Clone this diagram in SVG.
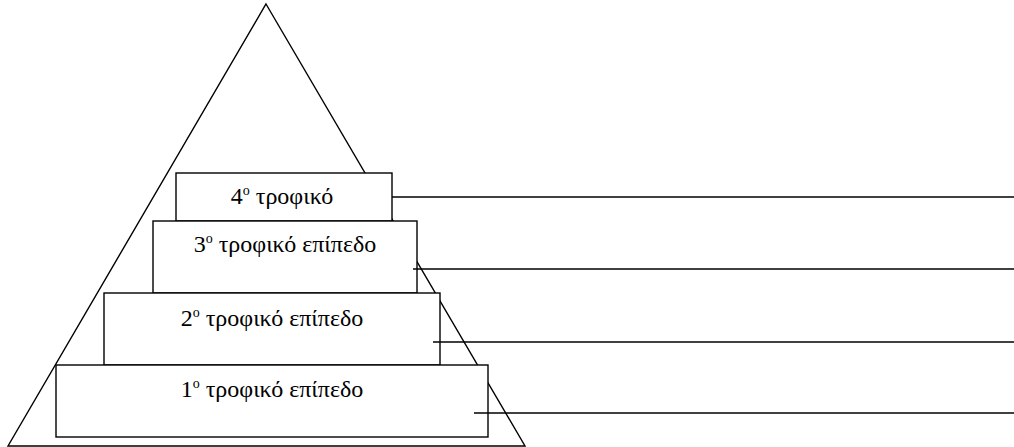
<svg xmlns="http://www.w3.org/2000/svg" width="1014" height="447" viewBox="0 0 1014 447">
<style>
.shape{fill:#fff;stroke:#000;stroke-width:1.4}
.tri{fill:none;stroke:#000;stroke-width:1.4}
.conn{stroke:#000;stroke-width:1.5;fill:none}
.lbl{font-family:"Liberation Serif","Times New Roman",serif;font-size:24px;fill:#000;text-anchor:middle}
.sup{font-size:14px}
</style>
<rect width="1014" height="447" fill="#fff"/>
<g id="pyramid">
<polygon class="tri" points="266,4 525,446 8,446"/>
</g>
<g id="level4">
<rect class="shape" x="176" y="173" width="216" height="48"/>
<text class="lbl" x="282" y="204">4<tspan class="sup" dy="-9">ο</tspan><tspan dy="9"> τροφικό</tspan></text>
</g>
<g id="level3">
<rect class="shape" x="153" y="221" width="264" height="72"/>
<text class="lbl" x="285" y="252">3<tspan class="sup" dy="-9">ο</tspan><tspan dy="9"> τροφικό επίπεδο</tspan></text>
</g>
<g id="level2">
<rect class="shape" x="104" y="293" width="336" height="72"/>
<text class="lbl" x="272" y="326">2<tspan class="sup" dy="-9">ο</tspan><tspan dy="9"> τροφικό επίπεδο</tspan></text>
</g>
<g id="level1">
<rect class="shape" x="56" y="365" width="432" height="72"/>
<text class="lbl" x="272" y="397">1<tspan class="sup" dy="-9">ο</tspan><tspan dy="9"> τροφικό επίπεδο</tspan></text>
</g>
<g id="connectors">
<line class="conn" x1="392" y1="197" x2="1014" y2="197"/>
<line class="conn" x1="413" y1="269" x2="1014" y2="269"/>
<line class="conn" x1="433" y1="342" x2="1014" y2="342"/>
<line class="conn" x1="474" y1="413" x2="1014" y2="413"/>
</g>
</svg>
